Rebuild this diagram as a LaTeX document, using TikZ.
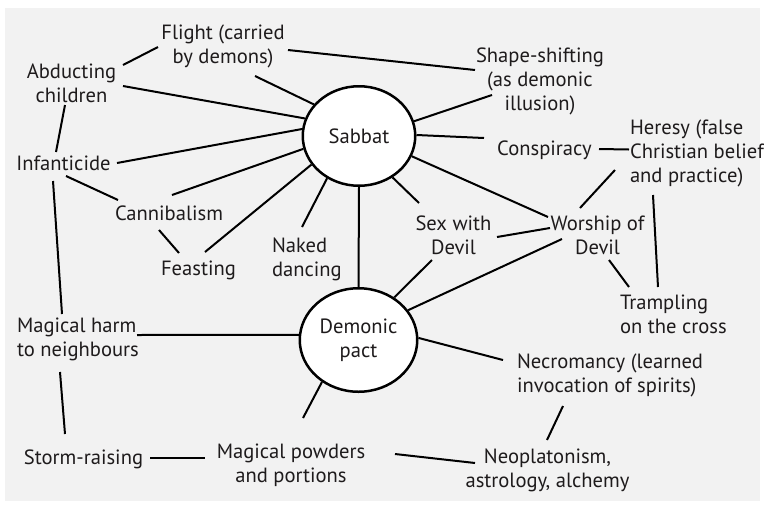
\documentclass[tikz,border=0pt]{standalone}
\usepackage{fontspec}
\setmainfont{PT Sans}
\usetikzlibrary{shapes.geometric}
\definecolor{bg}{HTML}{F2F2F2}
\definecolor{txt}{HTML}{1E1B1C}
\tikzset{
  lbl/.style={font=\fontsize{20.6}{24}\selectfont, text=txt, inner sep=0pt, outer sep=0pt, align=center},
  lbll/.style={lbl, align=left, anchor=west},
  hub/.style={ellipse, draw=black, line width=2.5pt, fill=white, inner sep=0pt,
    font=\fontsize{20.6}{24}\selectfont, text=txt, align=center},
  link/.style={draw=black, line width=2pt}
}
\begin{document}
\begin{tikzpicture}[x=1pt,y=-1pt]
\useasboundingbox (0,0) rectangle (764,507);
\fill[bg] (5,8) rectangle (760,501);

% hubs
\node[hub, minimum width=112.5pt, minimum height=99.5pt] (sab) at (359,136) {Sabbat};
\node[hub, minimum width=117.5pt, minimum height=103.5pt] (dem) at (358.5,340) {Demonic\\pact};

% labels
\node[lbl] (flight) at (223,46) {Flight (carried\\by demons)};
\node[lbl] (abd) at (71.5,83) {Abducting\\children};
\node[lbl] (shape) at (540,81) {Shape-shifting\\(as demonic\\illusion)};
\node[lbl] (consp) at (544.5,150) {Conspiracy};
\node[lbll] (heresy) at (630,153.5) {Heresy (false\\Christian belief\\and practice)};
\node[lbl] (infant) at (63.5,163.5) {Infanticide};
\node[lbl] (cann) at (169,213.5) {Cannibalism};
\node[lbl] (feast) at (198.5,270) {Feasting};
\node[lbll] (naked) at (272,259) {Naked\\dancing};
\node[lbl] (sex) at (453.5,235) {Sex with\\Devil};
\node[lbl] (worship) at (597.5,235) {Worship of\\Devil};
\node[lbll] (tramp) at (620,314) {Trampling\\on the cross};
\node[lbll] (harm) at (17,339) {Magical harm\\to neighbours};
\node[lbll] (necro) at (517,375) {Necromancy (learned\\invocation of spirits)};
\node[lbl] (storm) at (83.5,459) {Storm-raising};
\node[lbl] (powders) at (291,465) {Magical powders\\and portions};
\node[lbl] (neo) at (547.5,470) {Neoplatonism,\\astrology, alchemy};

% connectors around Sabbat
\draw[link] ([shift={(32,30)}]flight.center) -- (sab.145.5);
\draw[link] ([shift={(51.5,3)}]abd.center) -- (sab.162.3);
\draw[link] ([shift={(53.5,-0.5)}]infant.center) -- (sab.173);
\draw[link] ([shift={(3,-18.5)}]cann.center) -- (sab.193.4);
\draw[link] ([shift={(6.5,-18)}]feast.center) -- (sab.211.7);
\draw[link] ([shift={(30,-32)}]naked.west) -- (sab.233.3);
\draw[link] (sab.south) -- (dem.north);
\draw[link] (sab.309.4) -- ([shift={(-34.5,-32)}]sex.center);
\draw[link] (sab.339.3) -- ([shift={(-49.5,-18)}]worship.center);
\draw[link] (sab.1) -- ([shift={(-60.5,-12)}]consp.center);
\draw[link] (sab.15.6) -- ([shift={(-48,14)}]shape.center);

% outer ring
\draw[link] ([shift={(51.5,-18)}]abd.center) -- ([shift={(-65,1)}]flight.center);
\draw[link] ([shift={(65,4)}]flight.center) -- ([shift={(-65,-11)}]shape.center);
\draw[link] ([shift={(-6.5,22)}]abd.center) -- ([shift={(-7.5,-11.5)}]infant.center);
\draw[link] ([shift={(2.5,12.5)}]infant.center) -- ([shift={(-51,-13.5)}]cann.center);
\draw[link] ([shift={(-10,16.5)}]cann.center) -- ([shift={(-19.5,-17)}]feast.center);
\draw[link] ([shift={(-10.5,17.5)}]infant.center) -- ([shift={(45,-25)}]harm.west);
\draw[link] ([shift={(43,33)}]harm.west) -- ([shift={(-18.5,-25)}]storm.center);
\draw[link] ([shift={(66.5,-1)}]storm.center) -- ([shift={(-86,-7)}]powders.center);
\draw[link] ([shift={(104,-11)}]powders.center) -- ([shift={(-72.5,-7)}]neo.center);
\draw[link] ([shift={(46,31)}]necro.west) -- ([shift={(-0.5,-30)}]neo.center);
\draw[link] ([shift={(54.5,-1)}]consp.center) -- ([shift={(-1,-4)}]heresy.west);
\draw[link] ([shift={(-15,16.5)}]heresy.west) -- ([shift={(-17.5,-27)}]worship.center);
\draw[link] ([shift={(23,41.5)}]heresy.west) -- ([shift={(38,-27)}]tramp.west);
\draw[link] ([shift={(11.5,25)}]worship.center) -- ([shift={(9,-27)}]tramp.west);
\draw[link] ([shift={(43.5,2)}]sex.center) -- ([shift={(-47.5,-7)}]worship.center);

% connectors around Demonic pact
\draw[link] ([shift={(120,-4)}]harm.west) -- (dem.175);
\draw[link] (dem.229.8) -- ([shift={(12,-47)}]powders.center);
\draw[link] (dem.2.9) -- ([shift={(-14,-15)}]necro.west);
\draw[link] (dem.31.5) -- ([shift={(-35.5,4)}]worship.center);
\draw[link] (dem.50.3) -- ([shift={(-21.5,25)}]sex.center);
\end{tikzpicture}
\end{document}
